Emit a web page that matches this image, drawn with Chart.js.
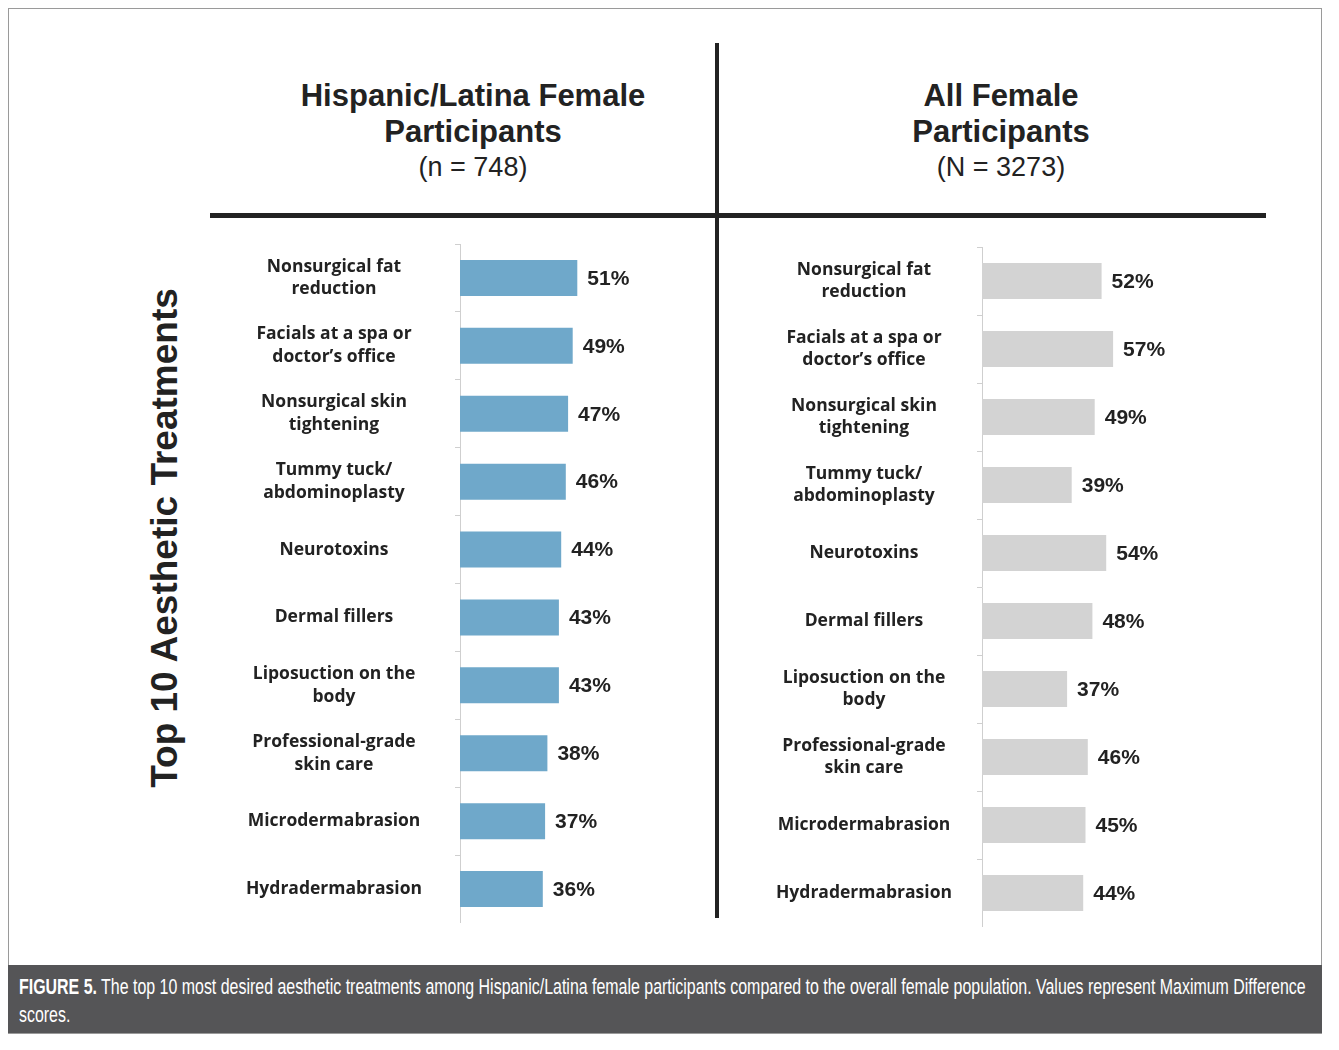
<!DOCTYPE html>
<html>
<head>
<meta charset="utf-8">
<script src="https://cdn.jsdelivr.net/npm/chart.js@4.4.1/dist/chart.umd.min.js"></script>
<style>
	body{ margin:0; background:#fff; width:1339px; height:1050px; position:relative; overflow:hidden; font-family:"Liberation Sans", Arial, sans-serif; color:#222; }
	.marco{ position:absolute; left:8px; top:8px; width:1312px; height:1024px; border:1px solid #9a9a9a; }
	.titulo{ position:absolute; width:520px; text-align:center; }
	.titulo .t1{ font-weight:bold; font-size:31px; line-height:36px; }
	.titulo .t2{ font-size:27px; line-height:34px; }
	.linea{ position:absolute; background:#222; }
	.ejeY{ position:absolute; left:165px; top:538px; transform:translate(-50%,-50%) rotate(-90deg); font-weight:bold; font-size:37px; white-space:nowrap; }
	.grafica{ position:absolute; }
	.pie{ position:absolute; left:8px; top:965px; width:1314px; height:68px; background:#555557; color:#fff; font-family:"Liberation Sans", Arial, sans-serif; font-size:22px; line-height:28px; box-sizing:border-box; padding:8px 0 0 11px; white-space:nowrap; }
	.pie span{ display:inline-block; transform-origin:left center; }
</style>
</head>
<body>

<div class="marco"></div>

<div class="titulo" style="left:213px; top:78px;">
	<div class="t1">Hispanic/Latina Female<br>Participants</div>
	<div class="t2">(n = 748)</div>
</div>
<div class="titulo" style="left:741px; top:78px;">
	<div class="t1">All Female<br>Participants</div>
	<div class="t2">(N = 3273)</div>
</div>

<div class="linea" style="left:715px; top:43px; width:4px; height:875px;"></div>
<div class="linea" style="left:210px; top:213px; width:1056px; height:5px;"></div>

<div class="ejeY">Top 10 Aesthetic Treatments</div>

<div class="grafica" style="left:210px; top:244px; width:480px; height:679px;"><canvas id="graficaLatinas"></canvas></div>
<div class="grafica" style="left:742px; top:247px; width:470px; height:680px;"><canvas id="graficaTodas"></canvas></div>

<div class="pie">
	<span id="pieLinea1"><b>FIGURE 5.</b> The top 10 most desired aesthetic treatments among Hispanic/Latina female participants compared to the overall female population. Values represent Maximum Difference</span><br>
	<span id="pieLinea2">scores.</span>
</div>

<script>
	// Datos de las graficas
	const tratamientosLatinas = [
		['Nonsurgical fat', 'reduction'],
		['Facials at a spa or', 'doctor’s office'],
		['Nonsurgical skin', 'tightening'],
		['Tummy tuck/', 'abdominoplasty'],
		'Neurotoxins',
		'Dermal fillers',
		['Liposuction on the', 'body'],
		['Professional-grade', 'skin care'],
		'Microdermabrasion',
		'Hydradermabrasion'
	];
	const valoresLatinas = [51, 49, 47, 46, 44, 43, 43, 38, 37, 36];

	const tratamientosTodas = [
		['Nonsurgical fat', 'reduction'],
		['Facials at a spa or', 'doctor’s office'],
		['Nonsurgical skin', 'tightening'],
		['Tummy tuck/', 'abdominoplasty'],
		'Neurotoxins',
		'Dermal fillers',
		['Liposuction on the', 'body'],
		['Professional-grade', 'skin care'],
		'Microdermabrasion',
		'Hydradermabrasion'
	];
	const valoresTodas = [52, 57, 49, 39, 54, 48, 37, 46, 45, 44];

	// Pintar el porcentaje al final de cada barra
	const etiquetasValores = {
		id: 'etiquetasValores',
		afterDatasetsDraw(chart){
			let ctx = chart.ctx;
			let meta = chart.getDatasetMeta(0);
			ctx.save();
			ctx.font = 'bold 21px "Liberation Sans", Arial, sans-serif';
			ctx.fillStyle = '#222';
			ctx.textBaseline = 'middle';
			meta.data.forEach(function(barra, i){
				ctx.fillText(chart.data.datasets[0].data[i] + '%', barra.x + 10, barra.y + 1);
			});
			ctx.restore();
		}
	};

	// Crear grafica de barras horizontales
	const crearGrafica = function(idCanvas, etiquetas, valores, color, anchoEje, espacioTicks){

		let canvas = document.getElementById(idCanvas).getContext('2d');

		return new Chart(canvas, {
			type: 'bar',
			data: {
				labels: etiquetas,
				datasets: [
					{
						data: valores,
						backgroundColor: color,
						barPercentage: 0.53,
						categoryPercentage: 1
					}
				]
			},
			options: {
				indexAxis: 'y',
				maintainAspectRatio: false,
				responsive: true,
				animation: false,
				layout: { padding: 0 },
				plugins: {
					legend: { display: false },
					tooltip: { enabled: false }
				},
				scales: {
					x: { display: false, min: 0, max: 100 },
					y: {
						// ancho fijo del eje y sin relleno arriba/abajo
						afterFit: function(scale){
							scale.width = anchoEje;
							scale.paddingTop = 0;
							scale.paddingBottom = 0;
						},
						grid: { drawOnChartArea: false, color: '#cfcfcf', tickLength: 5 },
						border: { color: '#cfcfcf', width: 1 },
						ticks: {
							crossAlign: 'center',
							padding: espacioTicks,
							color: '#222',
							font: { family: '"Open Sans", sans-serif', weight: 'bold', size: 17.5, lineHeight: 1.3 }
						}
					}
				}
			},
			plugins: [etiquetasValores]
		});
	}

	crearGrafica('graficaLatinas', tratamientosLatinas, valoresLatinas, '#6fa8ca', 250, 33);
	crearGrafica('graficaTodas', tratamientosTodas, valoresTodas, '#d3d3d3', 240, 25);

	// Ajustar el pie de figura al ancho del original (letra condensada)
	let linea1 = document.getElementById('pieLinea1');
	let linea2 = document.getElementById('pieLinea2');
	let factor = 1287 / linea1.offsetWidth;
	linea1.style.transform = 'scaleX(' + factor + ')';
	linea2.style.transform = 'scaleX(' + factor + ')';
</script>
</body>
</html>
